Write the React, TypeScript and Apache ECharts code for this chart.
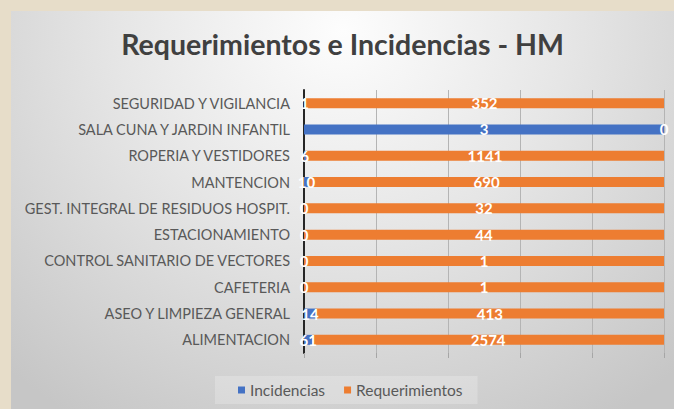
import React, { useEffect, useRef } from "react";
import * as echarts from "echarts";

const categories = [
  "ALIMENTACION",
  "ASEO Y LIMPIEZA GENERAL",
  "CAFETERIA",
  "CONTROL SANITARIO DE VECTORES",
  "ESTACIONAMIENTO",
  "GEST. INTEGRAL DE RESIDUOS HOSPIT.",
  "MANTENCION",
  "ROPERIA Y VESTIDORES",
  "SALA CUNA Y JARDIN INFANTIL",
  "SEGURIDAD Y VIGILANCIA",
];
const incidencias = [61, 14, 0, 0, 0, 0, 10, 6, 3, 1];
const requerimientos = [2574, 413, 1, 1, 44, 32, 690, 1141, 0, 352];
const seriesNames = ["Incidencias", "Requerimientos"];
const colors = ["#4472C4", "#ED7D31"];

const FONT = "Lato, 'Open Sans', sans-serif";

export default function App() {
  const ref = useRef<HTMLDivElement>(null);
  useEffect(() => {
    if (!ref.current) return;
    const chart = echarts.init(ref.current, null, { renderer: "svg" });
    const totals = categories.map((_, i) => incidencias[i] + requerimientos[i]);
    const pct = (arr: number[]) =>
      arr.map((v, i) => ({ value: totals[i] ? (v / totals[i]) * 100 : 0, raw: v }));
    const label = {
      show: true,
      position: "inside" as const,
      color: "#ffffff",
      fontFamily: FONT,
      fontWeight: "bold" as const,
      fontSize: 15,
      formatter: (p: any) => String(p.data.raw),
    };
    chart.setOption({
      animation: false,
      backgroundColor: "transparent",
      title: {
        text: "Requerimientos e Incidencias - HM",
        left: "center",
        top: 13,
        textStyle: { fontFamily: FONT, fontWeight: "bold", fontSize: 28.5, color: "#404040" },
      },
      legend: {
        data: seriesNames,
        bottom: 5,
        left: 204,
        itemWidth: 7,
        itemHeight: 7,
        itemGap: 19,
        icon: "rect",
        padding: [6, 15, 6, 23],
        backgroundColor: "rgba(255,255,255,0.22)",
        textStyle: { fontFamily: FONT, fontSize: 15.5, color: "#595959" },
      },
      grid: { left: 293, right: 10, top: 79, bottom: 56, containLabel: false },
      xAxis: {
        type: "value",
        min: 0,
        max: 100,
        interval: 20,
        axisLabel: { show: false },
        axisLine: { show: false },
        axisTick: { show: true, length: 5, lineStyle: { color: "#a6a6a6" } },
        splitLine: { show: true, lineStyle: { color: "#b4b4b4", width: 1 } },
      },
      yAxis: {
        type: "category",
        data: categories,
        axisLine: { show: true, lineStyle: { color: "#262626", width: 2 } },
        axisTick: { show: false },
        axisLabel: { margin: 14, fontFamily: FONT, fontSize: 14.5, color: "#595959" },
      },
      series: [
        {
          name: seriesNames[0],
          type: "bar",
          stack: "total",
          barWidth: 10,
          itemStyle: { color: colors[0] },
          label,
          data: pct(incidencias),
        },
        {
          name: seriesNames[1],
          type: "bar",
          stack: "total",
          barWidth: 10,
          itemStyle: { color: colors[1] },
          label,
          data: pct(requerimientos),
        },
      ],
    });
    return () => chart.dispose();
  }, []);
  return (
    <div
      style={{
        position: "fixed",
        left: 0,
        top: 0,
        width: 674,
        height: 409,
        background: "#e7ddc9",
        overflow: "hidden",
      }}
    >
      <div
        style={{
          position: "absolute",
          left: 11,
          top: 11,
          width: 663,
          height: 398,
          background:
            "radial-gradient(ellipse 75% 115% at 50% 5%, #fdfdfd 0%, #e6e6e6 45%, #c6c6c6 100%)",
        }}
      >
        <div ref={ref} style={{ width: 663, height: 398 }} />
      </div>
    </div>
  );
}
